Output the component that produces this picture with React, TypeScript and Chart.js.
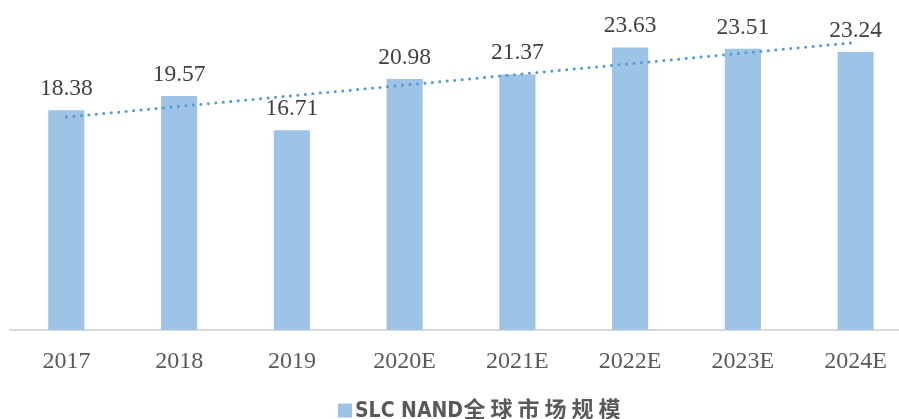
import React, { useEffect, useRef } from "react";
import { Chart, registerables } from "chart.js";

Chart.register(...registerables);

const categories = ["2017", "2018", "2019", "2020E", "2021E", "2022E", "2023E", "2024E"];
const marketSize = [18.38, 19.57, 16.71, 20.98, 21.37, 23.63, 23.51, 23.24];
// linear trend line end points
const trendValues: (number | null)[] = [17.8, null, null, null, null, null, null, 24.04];
const legendLatin = "SLC NAND";
const legendChinese = "全球市场规模";
const yMin = 0;
const yMax = 25;

const BAR_COLOR = "#9DC3E6";
const TREND_COLOR = "#5B9BD5";

const valueLabels = {
  id: "valueLabels",
  afterDatasetsDraw(chart: any) {
    const meta = chart.getDatasetMeta(0);
    const ctx = chart.ctx;
    ctx.save();
    ctx.font = '23.5px "Liberation Serif"';
    ctx.fillStyle = "#404040";
    ctx.textAlign = "center";
    ctx.textBaseline = "alphabetic";
    meta.data.forEach((bar: any, i: number) => {
      ctx.fillText(marketSize[i].toFixed(2), bar.x, bar.y - 15);
    });
    ctx.restore();
  },
};

const customLegend = {
  id: "customLegend",
  afterDraw(chart: any) {
    const ctx = chart.ctx;
    ctx.save();
    ctx.fillStyle = BAR_COLOR;
    ctx.fillRect(338, 403.5, 14, 14);
    ctx.fillStyle = "#595959";
    ctx.textBaseline = "alphabetic";
    ctx.textAlign = "left";
    ctx.font = 'bold 21px "Liberation Sans Narrow", "DejaVu Sans Condensed", sans-serif';
    ctx.fillText(legendLatin, 355, 416.5);
    const w = ctx.measureText(legendLatin).width;
    ctx.font = 'bold 22px "Noto Sans CJK SC", sans-serif';
    let x = 355 + w + 0.5;
    for (const ch of legendChinese) {
      ctx.fillText(ch, x, 417);
      x += 27;
    }
    ctx.restore();
  },
};

export default function App() {
  const canvasRef = useRef<HTMLCanvasElement | null>(null);

  useEffect(() => {
    if (!canvasRef.current) return;
    const chart = new Chart(canvasRef.current, {
      type: "bar",
      data: {
        labels: categories,
        datasets: [
          {
            type: "bar",
            label: legendLatin + legendChinese,
            data: marketSize,
            backgroundColor: BAR_COLOR,
            barPercentage: 0.32,
            categoryPercentage: 1,
            order: 1,
          } as any,
          {
            type: "line",
            label: "trend",
            data: trendValues,
            borderColor: TREND_COLOR,
            borderWidth: 3,
            borderDash: [0.1, 7.4],
            borderCapStyle: "round",
            pointRadius: 0,
            spanGaps: true,
            fill: false,
            order: 0,
          } as any,
        ],
      },
      options: {
        responsive: false,
        animation: false,
        layout: { padding: { top: 31, left: 10, right: 8, bottom: 0 } },
        plugins: {
          legend: { display: false },
          tooltip: { enabled: false },
        },
        scales: {
          x: {
            grid: { display: false, drawTicks: false },
            border: { display: true, color: "#D9D9D9", width: 2 },
            ticks: {
              color: "#595959",
              font: { family: '"Liberation Serif"', size: 24 },
              padding: 17,
            },
            afterFit: (scale: any) => {
              scale.height = 89;
            },
          },
          y: {
            display: false,
            min: yMin,
            max: yMax,
          },
        },
      },
      plugins: [valueLabels, customLegend],
    });
    return () => chart.destroy();
  }, []);

  return (
    <div
      style={{
        position: "fixed",
        left: 0,
        top: 0,
        width: 899,
        height: 419,
        overflow: "hidden",
        background: "#fff",
      }}
    >
      <canvas ref={canvasRef} width={920} height={419} />
    </div>
  );
}
